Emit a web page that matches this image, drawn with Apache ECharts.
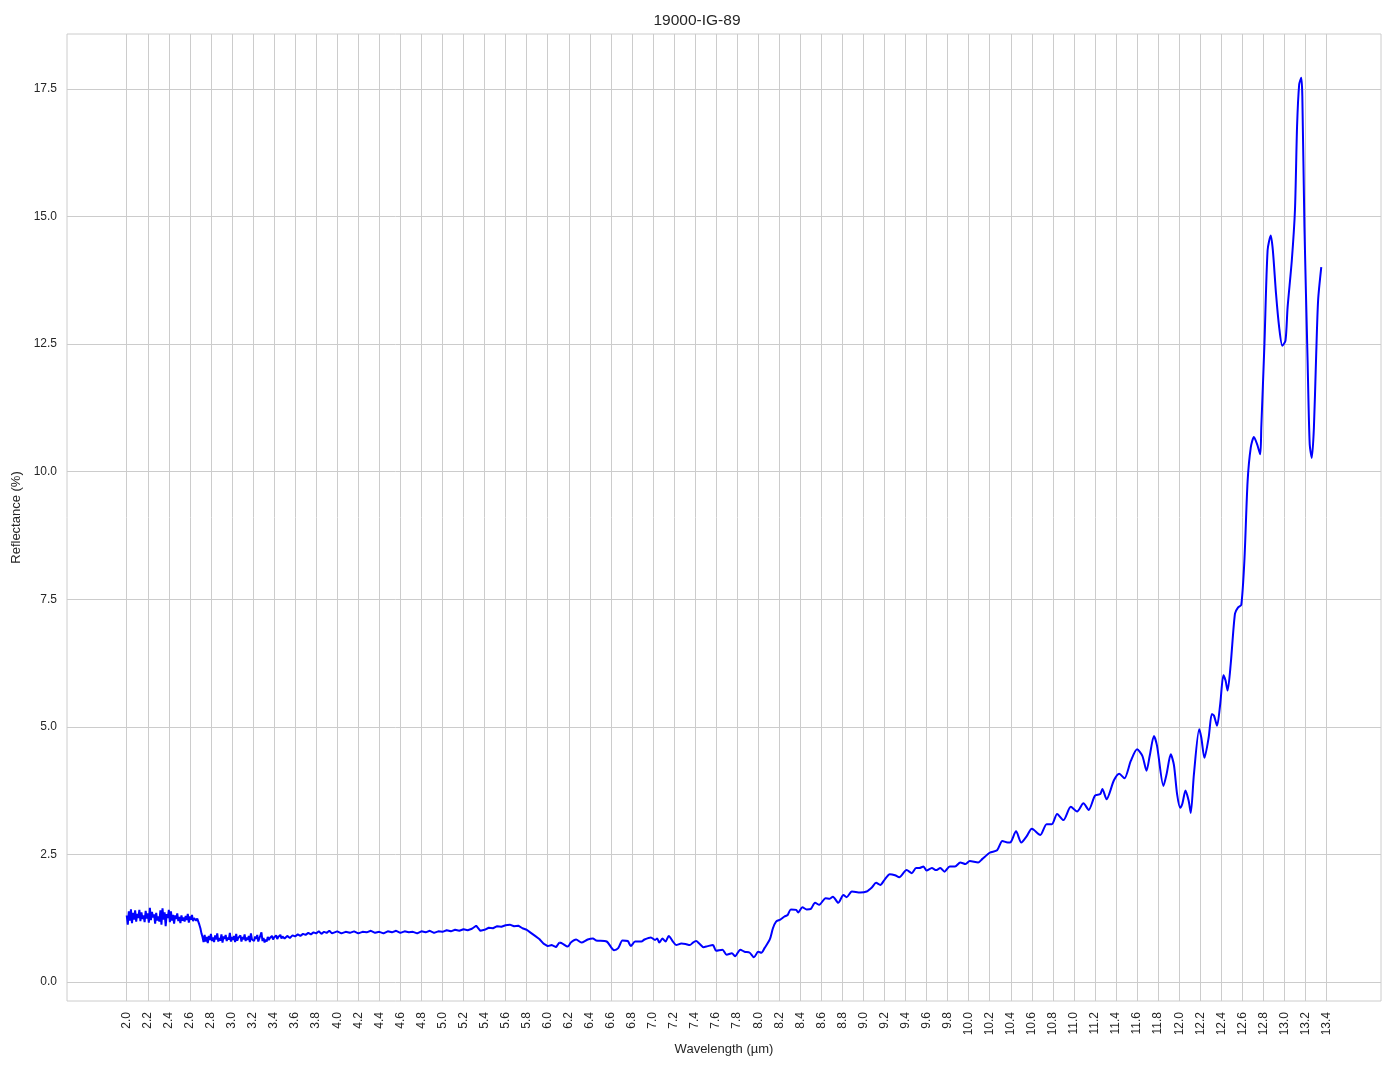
<!DOCTYPE html>
<html>
<head>
<meta charset="utf-8">
<script src="https://cdn.jsdelivr.net/npm/echarts@6/dist/echarts.min.js"></script>
<style>
html,body{margin:0;padding:0;background:#fff;}
#chart{width:1394px;height:1069px;}
</style>
</head>
<body>
<div id="chart"></div>
<script>
// ---- data (wavelength µm, reflectance %) ----
const titleText = "19000-IG-89";
const xName = "Wavelength (µm)";
const yName = "Reflectance (%)";

const xTicks = [2.0,2.2,2.4,2.6,2.8,3.0,3.2,3.4,3.6,3.8,4.0,4.2,4.4,4.6,4.8,5.0,5.2,5.4,5.6,5.8,6.0,6.2,6.4,6.6,6.8,7.0,7.2,7.4,7.6,7.8,8.0,8.2,8.4,8.6,8.8,9.0,9.2,9.4,9.6,9.8,10.0,10.2,10.4,10.6,10.8,11.0,11.2,11.4,11.6,11.8,12.0,12.2,12.4,12.6,12.8,13.0,13.2,13.4];
const yTicks = [0,2.5,5,7.5,10,12.5,15,17.5];

// noisy start, 2.00–2.73
const segA = [[2.00,1.30],[2.01,1.12],[2.02,1.38],[2.03,1.20],[2.04,1.42],[2.05,1.15],[2.06,1.35],[2.07,1.22],[2.08,1.40],[2.09,1.18],
[2.10,1.33],[2.11,1.25],[2.12,1.41],[2.13,1.19],[2.14,1.36],[2.15,1.23],[2.16,1.30],[2.17,1.17],[2.18,1.39],[2.19,1.24],
[2.20,1.34],[2.21,1.16],[2.22,1.45],[2.23,1.21],[2.24,1.37],[2.25,1.26],[2.26,1.32],[2.27,1.14],[2.28,1.35],[2.29,1.20],
[2.30,1.28],[2.31,1.18],[2.32,1.40],[2.33,1.12],[2.34,1.44],[2.35,1.22],[2.36,1.36],[2.37,1.09],[2.38,1.33],[2.39,1.25],
[2.40,1.41],[2.41,1.17],[2.42,1.38],[2.43,1.20],[2.44,1.31],[2.45,1.14],[2.46,1.30],[2.47,1.23],[2.48,1.34],[2.49,1.19],
[2.50,1.27],[2.51,1.15],[2.52,1.30],[2.53,1.20],[2.54,1.26],[2.55,1.18],[2.56,1.29],[2.57,1.21],[2.58,1.33],[2.59,1.16],
[2.60,1.28],[2.61,1.22],[2.62,1.31],[2.63,1.19],[2.64,1.25],[2.65,1.23],[2.66,1.20],[2.67,1.24],[2.68,1.18],[2.69,1.12],
[2.70,1.05],[2.71,0.95],[2.72,0.88],[2.73,0.78]];

// noisy low plateau, 2.74–3.49
const segB = [[2.74,0.92],[2.75,0.79],[2.76,0.88],[2.77,0.76],[2.78,0.90],[2.79,0.82],[2.80,0.94],[2.81,0.80],[2.82,0.87],[2.83,0.78],
[2.84,0.91],[2.85,0.83],[2.86,0.95],[2.87,0.79],[2.88,0.86],[2.89,0.81],[2.90,0.93],[2.91,0.77],[2.92,0.89],[2.93,0.84],
[2.94,0.92],[2.95,0.80],[2.96,0.87],[2.97,0.83],[2.98,0.96],[2.99,0.79],[3.00,0.88],[3.01,0.82],[3.02,0.90],[3.03,0.78],
[3.04,0.94],[3.05,0.81],[3.06,0.86],[3.07,0.84],[3.08,0.91],[3.09,0.79],[3.10,0.88],[3.11,0.83],[3.12,0.93],[3.13,0.80],
[3.14,0.87],[3.15,0.82],[3.16,0.90],[3.17,0.78],[3.18,0.95],[3.19,0.83],[3.20,0.86],[3.21,0.80],[3.22,0.89],[3.23,0.84],
[3.24,0.92],[3.25,0.79],[3.26,0.85],[3.27,0.82],[3.28,0.97],[3.29,0.80],[3.30,0.86],[3.31,0.77],[3.32,0.83],[3.33,0.79],
[3.34,0.88],[3.35,0.82],[3.36,0.86],[3.37,0.84],[3.38,0.90],[3.39,0.83],[3.40,0.87],[3.41,0.85],[3.42,0.91],[3.43,0.84],
[3.44,0.88],[3.45,0.86],[3.46,0.92],[3.47,0.85],[3.48,0.89],[3.49,0.87]];

// 3.50–4.00
const segB2 = [[3.500,0.85],[3.525,0.90],[3.550,0.86],[3.575,0.91],[3.600,0.89],[3.625,0.93],[3.650,0.90],[3.675,0.94],[3.700,0.92],[3.725,0.96],
[3.750,0.93],[3.775,0.97],[3.800,0.95],[3.825,0.99],[3.850,0.94],[3.875,0.98],[3.900,0.96],[3.925,1.00],[3.950,0.95],[3.975,0.97],
[4.000,0.99]];

// 4.04–6.08
const segC = [[4.04,0.95],[4.08,0.98],[4.12,0.96],[4.16,0.99],[4.20,0.95],[4.24,0.98],[4.28,0.97],[4.32,1.00],[4.36,0.96],[4.40,0.98],
[4.44,0.95],[4.48,0.99],[4.52,0.97],[4.56,1.00],[4.60,0.96],[4.64,0.99],[4.68,0.97],[4.72,0.98],[4.76,0.95],[4.80,0.99],
[4.84,0.97],[4.88,1.00],[4.92,0.96],[4.96,0.99],[5.00,0.98],[5.04,1.01],[5.08,0.99],[5.12,1.02],[5.16,1.00],[5.20,1.03],
[5.24,1.01],[5.28,1.04],[5.32,1.10],[5.36,1.00],[5.40,1.02],[5.44,1.06],[5.48,1.05],[5.52,1.09],[5.56,1.08],[5.60,1.11],
[5.64,1.12],[5.68,1.09],[5.72,1.10],[5.76,1.05],[5.80,1.02],[5.84,0.96],[5.88,0.90],[5.92,0.84],[5.96,0.75],[6.00,0.70],
[6.04,0.72],[6.08,0.68]];

// smooth part 6.11–13.35
const segD = [[6.11,0.77],[6.14,0.75],[6.19,0.69],[6.22,0.77],[6.27,0.83],[6.32,0.77],[6.38,0.83],[6.43,0.85],[6.46,0.81],[6.56,0.79],
[6.63,0.62],[6.67,0.66],[6.71,0.81],[6.76,0.80],[6.79,0.70],[6.83,0.79],[6.89,0.79],[6.92,0.83],[6.98,0.87],[7.02,0.82],
[7.04,0.85],[7.06,0.77],[7.09,0.85],[7.12,0.79],[7.15,0.90],[7.19,0.79],[7.22,0.72],[7.27,0.75],[7.31,0.74],[7.35,0.72],
[7.38,0.77],[7.41,0.80],[7.44,0.75],[7.48,0.68],[7.52,0.70],[7.57,0.72],[7.60,0.61],[7.66,0.63],[7.70,0.53],[7.75,0.56],
[7.78,0.50],[7.83,0.63],[7.87,0.59],[7.92,0.57],[7.96,0.48],[8.00,0.59],[8.03,0.57],[8.06,0.66],[8.11,0.83],[8.14,1.05],
[8.17,1.18],[8.21,1.22],[8.25,1.28],[8.28,1.31],[8.31,1.42],[8.36,1.41],[8.38,1.36],[8.42,1.46],[8.46,1.42],[8.50,1.43],
[8.54,1.55],[8.58,1.51],[8.64,1.64],[8.68,1.63],[8.71,1.67],[8.76,1.55],[8.81,1.70],[8.84,1.66],[8.89,1.77],[8.97,1.75],
[9.03,1.77],[9.08,1.85],[9.12,1.94],[9.16,1.90],[9.20,2.00],[9.25,2.11],[9.30,2.09],[9.34,2.05],[9.41,2.19],[9.46,2.13],
[9.50,2.23],[9.53,2.23],[9.57,2.26],[9.60,2.18],[9.65,2.23],[9.69,2.19],[9.73,2.23],[9.77,2.16],[9.82,2.26],[9.87,2.26],
[9.92,2.34],[9.97,2.31],[10.01,2.37],[10.09,2.34],[10.13,2.41],[10.20,2.53],[10.27,2.58],[10.32,2.76],[10.37,2.73],[10.40,2.74],
[10.45,2.95],[10.50,2.73],[10.55,2.85],[10.60,3.00],[10.68,2.88],[10.74,3.09],[10.79,3.09],[10.84,3.29],[10.90,3.17],[10.97,3.43],
[11.03,3.34],[11.09,3.50],[11.14,3.37],[11.20,3.65],[11.25,3.68],[11.27,3.78],[11.31,3.58],[11.38,3.95],[11.43,4.08],[11.48,3.99],
[11.54,4.33],[11.60,4.56],[11.65,4.43],[11.69,4.14],[11.72,4.43],[11.76,4.82],[11.79,4.62],[11.85,3.84],[11.88,4.07],[11.92,4.46],
[11.95,4.25],[11.98,3.68],[12.01,3.41],[12.03,3.49],[12.06,3.75],[12.09,3.55],[12.11,3.31],[12.14,4.07],[12.19,4.95],[12.21,4.79],
[12.24,4.39],[12.28,4.79],[12.31,5.25],[12.33,5.22],[12.36,5.02],[12.39,5.45],[12.42,6.01],[12.44,5.91],[12.46,5.71],[12.49,6.24],
[12.53,7.22],[12.56,7.34],[12.59,7.39],[12.62,8.28],[12.65,9.81],[12.68,10.47],[12.71,10.68],[12.74,10.54],[12.77,10.34],[12.78,10.86],
[12.81,12.50],[12.84,14.34],[12.87,14.63],[12.89,14.34],[12.92,13.49],[12.95,12.83],[12.98,12.47],[13.01,12.57],[13.03,13.22],[13.07,14.14],
[13.10,15.13],[13.12,16.77],[13.14,17.59],[13.16,17.72],[13.17,17.36],[13.19,14.80],[13.22,12.18],[13.24,10.54],[13.26,10.27],[13.28,10.86],
[13.30,12.18],[13.32,13.36],[13.35,14.01]];

const noisyData = segA.concat(segB, segB2, segC, [segD[0]]);
const smoothData = segD;

const font = '"Liberation Sans", Arial, sans-serif';
const textColor = '#262626';
const gridColor = '#cccccc';

const chart = echarts.init(document.getElementById('chart'), null, {renderer: 'canvas'});
chart.setOption({
  animation: false,
  backgroundColor: '#ffffff',
  title: {
    text: titleText, left: 'center', top: 13, padding: 0,
    textStyle: {fontFamily: font, fontSize: 15.5, fontWeight: 'normal', color: textColor}
  },
  grid: {left: 67, right: 13, top: 34, bottom: 68, show: true, borderColor: gridColor, borderWidth: 1, containLabel: false},
  xAxis: {
    type: 'value', min: 1.4325, max: 13.9175,
    name: xName, nameLocation: 'middle', nameGap: 40,
    nameTextStyle: {fontFamily: font, fontSize: 13, color: textColor},
    axisLine: {show: false},
    axisTick: {show: false, customValues: xTicks},
    axisLabel: {customValues: xTicks, rotate: 90, margin: 11, fontFamily: font, fontSize: 12, color: textColor,
      formatter: v => Number(v).toFixed(1)},
    splitLine: {show: true, lineStyle: {color: gridColor, width: 1}}
  },
  yAxis: {
    type: 'value', min: -0.376, max: 18.58,
    name: yName, nameLocation: 'middle', nameGap: 42,
    nameTextStyle: {fontFamily: font, fontSize: 13, color: textColor},
    axisLine: {show: false},
    axisTick: {show: false, customValues: yTicks},
    axisLabel: {customValues: yTicks, margin: 10, fontFamily: font, fontSize: 12, color: textColor,
      formatter: v => Number(v).toFixed(1)},
    splitLine: {show: true, lineStyle: {color: gridColor, width: 1}}
  },
  series: [
    {type: 'line', data: noisyData, showSymbol: false, symbol: 'none', smooth: false,
      lineStyle: {color: '#0000ff', width: 2}, z: 3},
    {type: 'line', data: smoothData, showSymbol: false, symbol: 'none', smooth: 0.25,
      lineStyle: {color: '#0000ff', width: 2}, z: 3}
  ]
});
</script>
</body>
</html>
